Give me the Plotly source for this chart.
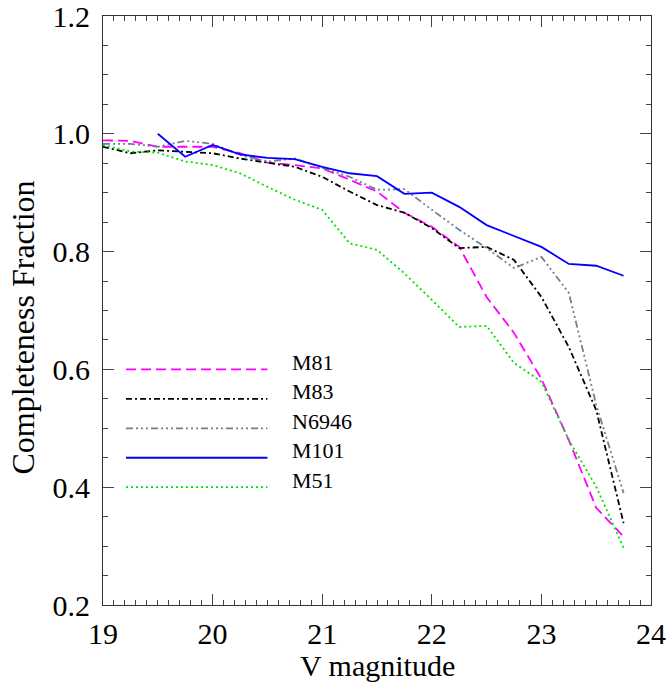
import plotly.graph_objects as go

# ---- data ----
vmag = [19.0, 19.25, 19.5, 19.75, 20.0, 20.25, 20.5, 20.75, 21.0, 21.25,
        21.5, 21.75, 22.0, 22.25, 22.5, 22.75, 23.0, 23.25, 23.5, 23.75]

m81 = [0.989, 0.988, 0.978, 0.978, 0.978, 0.967, 0.951, 0.947, 0.941, 0.922,
       0.902, 0.866, 0.842, 0.808, 0.723, 0.662, 0.584, 0.480, 0.365, 0.316]
m83 = [0.978, 0.967, 0.972, 0.970, 0.967, 0.958, 0.951, 0.944, 0.927, 0.902,
       0.879, 0.866, 0.840, 0.806, 0.808, 0.786, 0.723, 0.638, 0.531, 0.339]
n6946 = [0.983, 0.983, 0.978, 0.988, 0.983, 0.964, 0.953, 0.958, 0.942, 0.927,
         0.905, 0.906, 0.871, 0.837, 0.806, 0.772, 0.791, 0.730, 0.540, 0.390]
m101_x = vmag[2:]
m101 = [1.000, 0.961, 0.981, 0.965, 0.959, 0.957, 0.944, 0.933, 0.928,
        0.898, 0.900, 0.876, 0.845, 0.826, 0.808, 0.779, 0.776, 0.759]
m51 = [0.981, 0.970, 0.968, 0.953, 0.947, 0.933, 0.910, 0.888, 0.871, 0.814,
       0.803, 0.763, 0.718, 0.672, 0.674, 0.611, 0.579, 0.480, 0.401, 0.297]

names = ["M81", "M83", "N6946", "M101", "M51"]
xs = [vmag, vmag, vmag, m101_x, vmag]
ys = [m81, m83, n6946, m101, m51]
colors = ["#FF00FF", "#000000", "#708090", "#0000FF", "#00E000"]
dashes = ["10px,5px", "6px,3px,2px,3px", "7px,3px,2px,3px,2px,3px,2px,3px",
          "solid", "2px,3px"]

FONT = "Liberation Serif, Times New Roman, serif"

fig = go.Figure()
for n, x, y, c, d in zip(names, xs, ys, colors, dashes):
    fig.add_trace(go.Scatter(x=x, y=y, mode="lines", name=n,
                             line=dict(color=c, dash=d, width=1.8),
                             showlegend=False))

# in-plot legend (line samples + labels)
leg_x0, leg_x1, leg_tx = 19.21, 20.50, 20.71
leg_y = [0.60, 0.55, 0.50, 0.45, 0.40]
for n, c, d, yy in zip(names, colors, dashes, leg_y):
    fig.add_shape(type="line", x0=leg_x0, x1=leg_x1, y0=yy, y1=yy,
                  xref="x", yref="y",
                  line=dict(color=c, dash=d, width=1.8))
    fig.add_annotation(x=leg_tx, y=yy, xref="x", yref="y", text=n,
                       showarrow=False, xanchor="left", yanchor="middle",
                       yshift=7, font=dict(family=FONT, size=22, color="black"))

axis_common = dict(
    showgrid=False, zeroline=False, showline=True, linecolor="#333333",
    linewidth=1.2, mirror="allticks", ticks="inside", ticklen=11,
    tickwidth=1.2, tickcolor="#444444", automargin=False,
    ticklabeloverflow="allow",
    tickfont=dict(family=FONT, size=30, color="black"),
)

fig.update_xaxes(range=[19, 24], tickvals=[19, 20, 21, 22, 23, 24],
                 ticktext=["19", "20", "21", "22", "23", "24"],
                 minor=dict(ticks="inside", dtick=0.1, ticklen=5,
                            tickcolor="#444444", tickwidth=1),
                 ticklabelstandoff=2, **axis_common)
fig.update_yaxes(range=[0.2, 1.2], tickvals=[0.2, 0.4, 0.6, 0.8, 1.0, 1.2],
                 ticktext=["0.2", "0.4", "0.6", "0.8", "1.0", "1.2"],
                 minor=dict(ticks="inside", dtick=0.05, ticklen=5,
                            tickcolor="#444444", tickwidth=1),
                 ticklabelstandoff=6, **axis_common)

fig.add_annotation(text="V magnitude", x=0.5, y=-0.102, xref="paper",
                   yref="paper", showarrow=False, xanchor="center",
                   yanchor="middle", font=dict(family=FONT, size=30, color="black"))
fig.add_annotation(text="Completeness Fraction", x=-0.146, y=0.471,
                   xref="paper", yref="paper", showarrow=False, textangle=-90,
                   xanchor="center", yanchor="middle",
                   font=dict(family=FONT, size=32, color="black"))

fig.update_layout(width=670, height=683,
                  margin=dict(l=103, r=19, t=16, b=78, autoexpand=False),
                  plot_bgcolor="white", paper_bgcolor="white",
                  showlegend=False)

fig.write_html("out.html", config={"displayModeBar": False},
               post_script="document.body.style.margin='0';"
                           "document.body.style.overflow='hidden';")
